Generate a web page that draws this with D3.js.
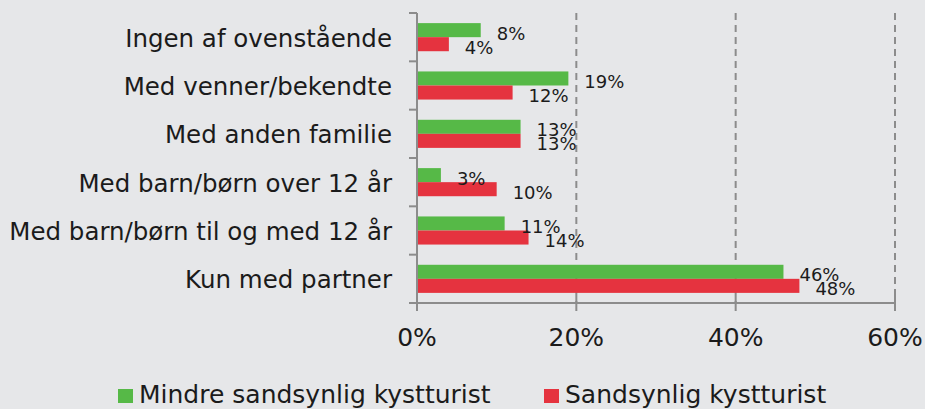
<!DOCTYPE html>
<html>
<head>
<meta charset="utf-8">
<script src="https://cdn.jsdelivr.net/npm/d3@7"></script>
<style>
  html, body { margin: 0; padding: 0; background: #e6e7e9; }
  svg { display: block; font-family: "DejaVu Sans", sans-serif; }
</style>
</head>
<body>
<svg id="chart" width="925" height="409"></svg>
<script>
// Categories, top to bottom
const categories = [
  "Ingen af ovenstående",
  "Med venner/bekendte",
  "Med anden familie",
  "Med barn/børn over 12 år",
  "Med barn/børn til og med 12 år",
  "Kun med partner"
];
// Series names and values (percent)
const seriesNames = ["Mindre sandsynlig kystturist", "Sandsynlig kystturist"];
const lessLikely = [8, 19, 13, 3, 11, 46];
const likely = [4, 12, 13, 10, 14, 48];
const seriesColors = ["#56b947", "#e5333f"];
const xTicks = [0, 20, 40, 60];

const svg = d3.select("#chart");
const axisColor = "#8c8c8c";
const textColor = "#1b1b1b";

const x = d3.scaleLinear().domain([0, 60]).range([417, 895]);
const y0 = d3.scaleBand().domain(categories).range([13, 303]).padding(0);
const y1 = d3.scaleBand().domain(seriesNames).range([0, y0.bandwidth()]).paddingOuter(0.72).paddingInner(0);

// dashed gridlines
svg.append("g").selectAll("line").data(xTicks.filter(d => d > 0)).join("line")
  .attr("x1", d => x(d)).attr("x2", d => x(d))
  .attr("y1", 13).attr("y2", 303)
  .attr("stroke", axisColor).attr("stroke-width", 2)
  .attr("stroke-dasharray", "7,5");

// bars
const rows = categories.map((c, i) => ({ cat: c, vals: [lessLikely[i], likely[i]] }));
const groups = svg.append("g").selectAll("g").data(rows).join("g")
  .attr("transform", d => `translate(0,${y0(d.cat)})`);

groups.selectAll("rect").data(d => d.vals.map((v, k) => ({ v, k }))).join("rect")
  .attr("x", x(0))
  .attr("y", d => y1(seriesNames[d.k]))
  .attr("width", d => x(d.v) - x(0))
  .attr("height", y1.bandwidth())
  .attr("fill", d => seriesColors[d.k]);

// value labels
groups.selectAll("text").data(d => d.vals.map((v, k) => ({ v, k }))).join("text")
  .attr("x", d => x(d.v) + 16)
  .attr("y", d => y1(seriesNames[d.k]) + y1.bandwidth() / 2 + 9.5)
  .attr("font-size", 18)
  .attr("fill", textColor)
  .text(d => d.v + "%");

// category axis (ticks at band boundaries)
const yAxis = svg.append("g");
yAxis.append("line")
  .attr("x1", x(0)).attr("x2", x(0)).attr("y1", 13).attr("y2", 303)
  .attr("stroke", axisColor).attr("stroke-width", 2);
const boundaries = categories.map(c => y0(c)).concat([y0.range()[1]]);
yAxis.selectAll("line.tick").data(boundaries).join("line")
  .attr("class", "tick")
  .attr("x1", x(0) - 8).attr("x2", x(0))
  .attr("y1", d => d).attr("y2", d => d)
  .attr("stroke", axisColor).attr("stroke-width", 2);
yAxis.selectAll("text").data(categories).join("text")
  .attr("x", x(0) - 25)
  .attr("y", d => y0(d) + y0.bandwidth() / 2 + 9.5)
  .attr("text-anchor", "end")
  .attr("font-size", 24.5)
  .attr("fill", textColor)
  .text(d => d);

// value axis
const xAxis = svg.append("g");
xAxis.append("line")
  .attr("x1", x(0) - 7).attr("x2", x(60)).attr("y1", 303).attr("y2", 303)
  .attr("stroke", axisColor).attr("stroke-width", 2);
xAxis.selectAll("line.tick").data(xTicks).join("line")
  .attr("class", "tick")
  .attr("x1", d => x(d)).attr("x2", d => x(d))
  .attr("y1", 296).attr("y2", 311)
  .attr("stroke", axisColor).attr("stroke-width", 2);
xAxis.selectAll("text").data(xTicks).join("text")
  .attr("x", d => x(d))
  .attr("y", 346)
  .attr("text-anchor", "middle")
  .attr("font-size", 25)
  .attr("fill", textColor)
  .text(d => d + "%");

// legend
const legendX = [118, 544];
const legend = svg.append("g").selectAll("g").data(seriesNames).join("g")
  .attr("transform", (d, i) => `translate(${legendX[i]},0)`);
legend.append("rect")
  .attr("x", 0).attr("y", 389).attr("width", 15).attr("height", 14)
  .attr("fill", (d, i) => seriesColors[i]);
legend.append("text")
  .attr("x", 21).attr("y", 403)
  .attr("font-size", 25)
  .attr("fill", textColor)
  .text(d => d);
</script>
</body>
</html>
